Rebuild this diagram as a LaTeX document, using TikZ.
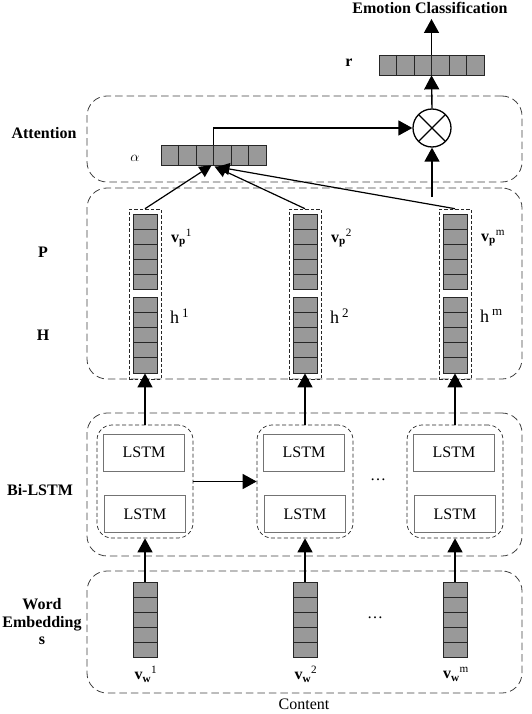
\documentclass[tikz,border=0pt]{standalone}
\usepackage{fontspec}
\setmainfont{Liberation Serif}
\usetikzlibrary{calc,arrows.meta}
\begin{document}
\begin{tikzpicture}[x=1pt,y=-1pt,
  every node/.style={font=\fontsize{16}{18}\selectfont},
  outerbox/.style={draw=black!75, dashed, dash pattern=on 7.5pt off 4pt, rounded corners=20pt, line width=0.8pt, minimum width=435pt, inner sep=0pt},
  innerbox/.style={draw=black!85, dash pattern=on 4pt off 2.5pt, rounded corners=15pt, line width=0.7pt, minimum width=96pt, minimum height=113pt, inner sep=0pt},
  colbox/.style={draw=black!85, dash pattern=on 3.5pt off 2pt, line width=0.6pt, minimum width=32pt, minimum height=170pt, inner sep=0pt},
  lstm/.style={draw=black!55, line width=0.9pt, minimum width=81pt, minimum height=37pt, inner sep=0pt},
  vvec/.style={draw=black!85, fill=black!40, line width=0.8pt, minimum width=24pt, minimum height=75pt, inner sep=0pt,
    path picture={\foreach \i in {1,...,4}{\draw[black!85,line width=0.8pt] ($(path picture bounding box.north west)!\i/5!(path picture bounding box.south west)$) -- ($(path picture bounding box.north east)!\i/5!(path picture bounding box.south east)$);}}},
  hvec/.style={draw=black!85, fill=black!40, line width=0.8pt, minimum width=105pt, minimum height=20pt, inner sep=0pt,
    path picture={\foreach \i in {1,...,5}{\draw[black!85,line width=0.8pt] ($(path picture bounding box.north west)!\i/6!(path picture bounding box.north east)$) -- ($(path picture bounding box.south west)!\i/6!(path picture bounding box.south east)$);}}},
  otimesnode/.style={circle, draw, line width=1.3pt, minimum size=38pt, inner sep=0pt,
    path picture={\draw[line width=1.3pt] (path picture bounding box.north west) -- (path picture bounding box.south east) (path picture bounding box.north east) -- (path picture bounding box.south west);}},
  arr/.style={line width=1.4pt, -{Triangle[length=14pt,width=15pt]}},
  sarr/.style={line width=1.2pt, -{Triangle[length=12pt,width=12pt]}},
  lab/.style={font=\fontsize{16}{18}\selectfont\bfseries, align=center, inner sep=0pt}
]
\useasboundingbox (0,0) rectangle (532,714);

% outer dashed boxes
\node[outerbox, minimum height=86pt] (att) at (304.5,139) {};
\node[outerbox, minimum height=191pt] (ph) at (304.5,283.5) {};
\node[outerbox, minimum height=143pt] (bil) at (304.5,484.5) {};
\node[outerbox, minimum height=122pt] (we) at (304.5,632) {};

% left labels
\node[lab] (lemo) at (430,8) {Emotion Classification};
\node[lab] (latt) at (44,133) {Attention};
\node[lab] (lp) at (43,252) {P};
\node[lab] (lh) at (43,335) {H};
\node[lab] (lbil) at (40,490) {Bi-LSTM};
\node[lab, font=\fontsize{16}{17.5}\selectfont\bfseries] (lwe) at (42,622) {Word\\Embedding\\s};

% top vectors
\node[hvec] (r) at (431.5,65) {};
\node[lab] (lr) at (349,63) {r};
\node[hvec] (alpha) at (213.5,155) {};
\node[inner sep=0pt, font=\fontsize{15}{17}\selectfont] (lalpha) at (135,158) {$\alpha$};
\node[otimesnode] (ot) at (432,128) {};
\coordinate (top) at (431.5,19);
\coordinate (pin) at (432,197);

% columns
\foreach \x/\n/\s in {145/1/1,305/2/2,455/3/m}{
  \node[colbox] (col\n) at (\x,294) {};
  \node[vvec] (p\n) at (\x,251.5) {};
  \node[vvec, minimum height=76pt] (h\n) at (\x,335) {};
  \node[innerbox] (in\n) at (\x,481.5) {};
  \node[lstm] (lt\n) at (\x-1,452.5) {LSTM};
  \node[lstm] (lb\n) at (\x,514) {LSTM};
  \node[vvec] (w\n) at (\x,619.5) {};
  \node[anchor=west, inner sep=0pt] (lvp\n) at (\x+26,238) {\textbf{v}\textsubscript{\textbf{p}}\textsuperscript{\s}};
  \node[anchor=west, inner sep=0pt, font=\fontsize{18}{20}\selectfont] (lh\n) at (\x+25,316) {h\,\textsuperscript{\fontsize{13}{14}\selectfont\s}};
  \node[inner sep=0pt] (lw\n) at (\x+1,674) {\textbf{v}\textsubscript{\textbf{w}}\textsuperscript{\s}};
}

\node[inner sep=0pt] (dots1) at (378,480) {\dots};
\node[inner sep=0pt] (dots2) at (375,618) {\dots};
\node[inner sep=0pt] (content) at (304,704) {Content};

% arrows
\draw[arr] (r.north) -- (top);
\draw[arr] (ot.north) -- (r.south);
\draw[arr] (pin) -- (ot.south);
\draw[arr] (alpha.north) |- (ot.west);
\draw[sarr] (col1.north) -- ($(alpha.south)+(-2,0)$);
\draw[sarr] (col2.north) -- ($(alpha.south)+(1,1)$);
\draw[sarr] (col3.north) -- ($(alpha.south)+(4,1.5)$);
\foreach \n in {1,2,3}{
  \draw[arr] (in\n.north) -- (h\n.south);
  \draw[arr] (w\n.north) -- (in\n.south);
}
\draw[arr] (in1.east) -- (in2.west);
\end{tikzpicture}
\end{document}
